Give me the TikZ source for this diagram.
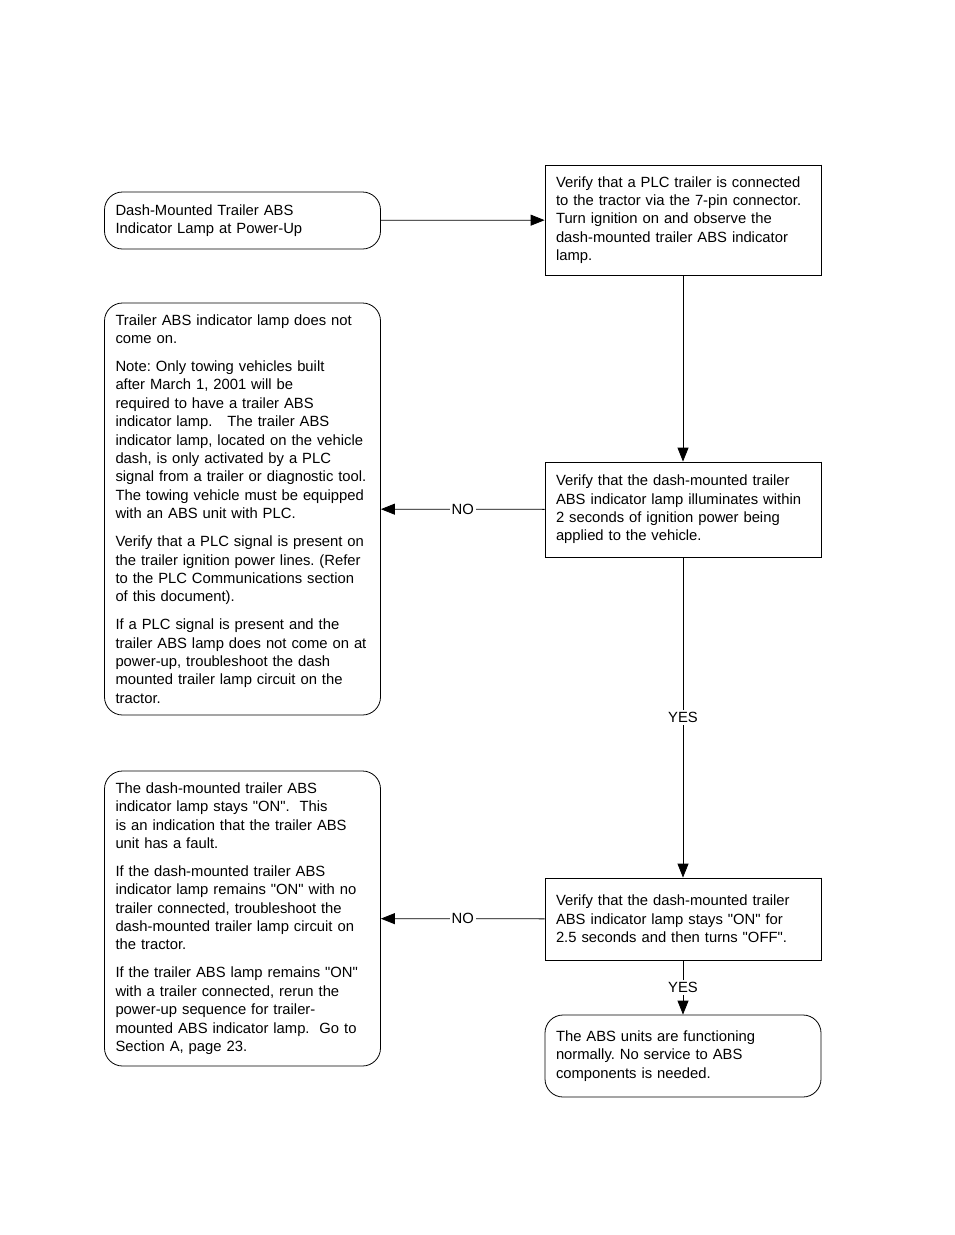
\documentclass[tikz,border=0pt]{standalone}
\usepackage{fontspec}
\setmainfont{Liberation Sans}
\usetikzlibrary{arrows.meta}
\newcommand{\qt}[1]{\textquotedbl#1\textquotedbl}
\frenchspacing
\begin{document}
\begin{tikzpicture}[x=1pt,y=-1pt,line width=0.8pt,
  box/.style={draw,minimum width=276pt,text width=254pt,inner xsep=11pt,align=left,
    font=\fontsize{14.8}{18.4}\selectfont},
  roundbox/.style={box,rounded corners=18pt},
  flow/.style={-{Triangle[length=14pt,width=11pt]}},
  answer/.style={fill=white,inner sep=2pt,font=\fontsize{14.8}{18}\selectfont}]
\useasboundingbox (0,0) rectangle (954,1235);
% Boxes
  \node[roundbox,minimum height=57pt] (start) at (242.5,220.5)
    {Dash-Mounted Trailer ABS\\Indicator Lamp at Power-Up};
  \node[box,minimum height=110pt] (verify) at (683,220)
    {Verify that a PLC trailer is connected\\to the tractor via the 7-pin connector.\\Turn ignition on and observe the\\dash-mounted trailer ABS indicator\\lamp.};
  \node[roundbox,minimum height=412pt] (nolamp) at (242.5,509)
    {Trailer ABS indicator lamp does not\\come on.\\[9.5pt]
     Note: Only towing vehicles built\\after March 1, 2001 will be\\required to have a trailer ABS\\indicator lamp.\quad The trailer ABS\\indicator lamp, located on the vehicle\\dash, is only activated by a PLC\\signal from a trailer or diagnostic tool.\\The towing vehicle must be equipped\\with an ABS unit with PLC.\\[9.5pt]
     Verify that a PLC signal is present on\\the trailer ignition power lines. (Refer\\to the PLC Communications section\\of this document).\\[9.5pt]
     If a PLC signal is present and the\\trailer ABS lamp does not come on at\\power-up, troubleshoot the dash\\mounted trailer lamp circuit on the\\tractor.};
  \node[box,minimum height=95pt] (check) at (683,509.5)
    {Verify that the dash-mounted trailer\\ABS indicator lamp illuminates within\\2 seconds of ignition power being\\applied to the vehicle.};
  \node[roundbox,minimum height=295pt] (stays) at (242.5,918.5)
    {The dash-mounted trailer ABS\\indicator lamp stays \qt{ON}.\ \ This\\is an indication that the trailer ABS\\unit has a fault.\\[9.5pt]
     If the dash-mounted trailer ABS\\indicator lamp remains \qt{ON} with no\\trailer connected, troubleshoot the\\dash-mounted trailer lamp circuit on\\the tractor.\\[9.5pt]
     If the trailer ABS lamp remains \qt{ON}\\with a trailer connected, rerun the\\power-up sequence for trailer-\\mounted ABS indicator lamp.\ \ Go to\\Section A, page 23.};
  \node[box,minimum height=82pt] (timing) at (683,919)
    {Verify that the dash-mounted trailer\\ABS indicator lamp stays \qt{ON} for\\2.5 seconds and then turns \qt{OFF}.};
  \node[roundbox,minimum height=82pt] (normal) at (683,1056)
    {The ABS units are functioning\\normally. No service to ABS\\components is needed.};
% heavier right and bottom edges
  \foreach \n in {verify,check,timing}
    \draw[line width=1.8pt] (\n.north east) -- (\n.south east) -- (\n.south west);
% Connectors
  \draw[flow] (start) -- (verify);
  \draw[flow] (verify) -- (check);
  \draw[flow] (check) -- node[answer] {NO} (nolamp);
  \draw[flow] (check) -- node[answer] {YES} (timing);
  \draw[flow] (timing) -- node[answer] {NO} (stays);
  \draw[flow] (timing) -- node[answer] {YES} (normal);
\end{tikzpicture}
\end{document}
